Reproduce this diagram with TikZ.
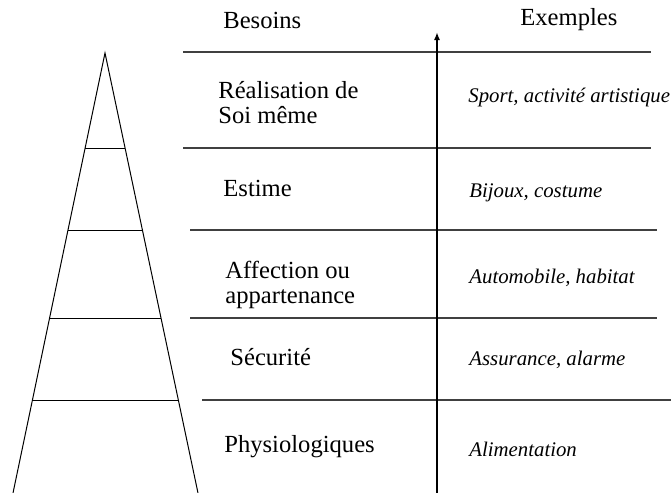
\documentclass[tikz,border=0pt]{standalone}
\usepackage{fontspec}
\setmainfont{Liberation Serif}
\usetikzlibrary{arrows.meta,positioning}

\tikzset{
  besoin/.style={anchor=west,inner sep=0pt,align=left,
    font=\fontsize{12.3}{12.5}\selectfont},
  exemple/.style={anchor=west,inner sep=0pt,
    font=\fontsize{10.4}{12}\selectfont\itshape},
  tabline/.style={draw=black!75,line width=0.9pt},
  pyr/.style={draw,line width=0.5pt}
}

\begin{document}
\begin{tikzpicture}[x=0.5pt,y=-0.5pt]
  \useasboundingbox (0,0) rectangle (671,493);

  % Pyramid
  \coordinate (top) at (105,53);
  \draw[pyr] (13,493) -- (top) -- (198,493);
  \foreach \y in {148,230,318,400} {
    \draw[pyr] ({105-0.209*(\y-53)},\y) -- ({105+0.2115*(\y-53)},\y);
  }

  % Headers
  \node[besoin] (hB) at (223,20) {Besoins};
  \node[besoin] (hE) at (520,20) {Exemples};

  % Table lines
  \draw[tabline] (183,52) -- (651,52);
  \draw[tabline] (183,148) -- (651,148);
  \draw[tabline] (190,230) -- (657,230);
  \draw[tabline] (190,318) -- (657,318);
  \draw[tabline] (202,400) -- (671,400);

  % Axis
  \coordinate (ax0) at (437,493);
  \coordinate (ax1) at (437,32);
  \draw[line width=0.8pt,-{Latex[length=4pt,width=3pt]}] (ax0) -- (ax1);

  % Needs
  \node[besoin] (b5) at (218,102.5) {Réalisation de\\Soi même};
  \node[besoin] (b4) at (223,188) {Estime};
  \node[besoin] (b3) at (225,284.5) {Affection ou\\appartenance};
  \node[besoin] (b2) at (230,357) {Sécurité};
  \node[besoin] (b1) at (224,447) {Physiologiques};

  % Examples
  \node[exemple] (e5) at (468,97) {Sport, activité artistique};
  \node[exemple] (e4) at (469,193) {Bijoux, costume};
  \node[exemple] (e3) at (469,278) {Automobile, habitat};
  \node[exemple] (e2) at (469,360) {Assurance, alarme};
  \node[exemple] (e1) at (469,449) {Alimentation};
\end{tikzpicture}
\end{document}
